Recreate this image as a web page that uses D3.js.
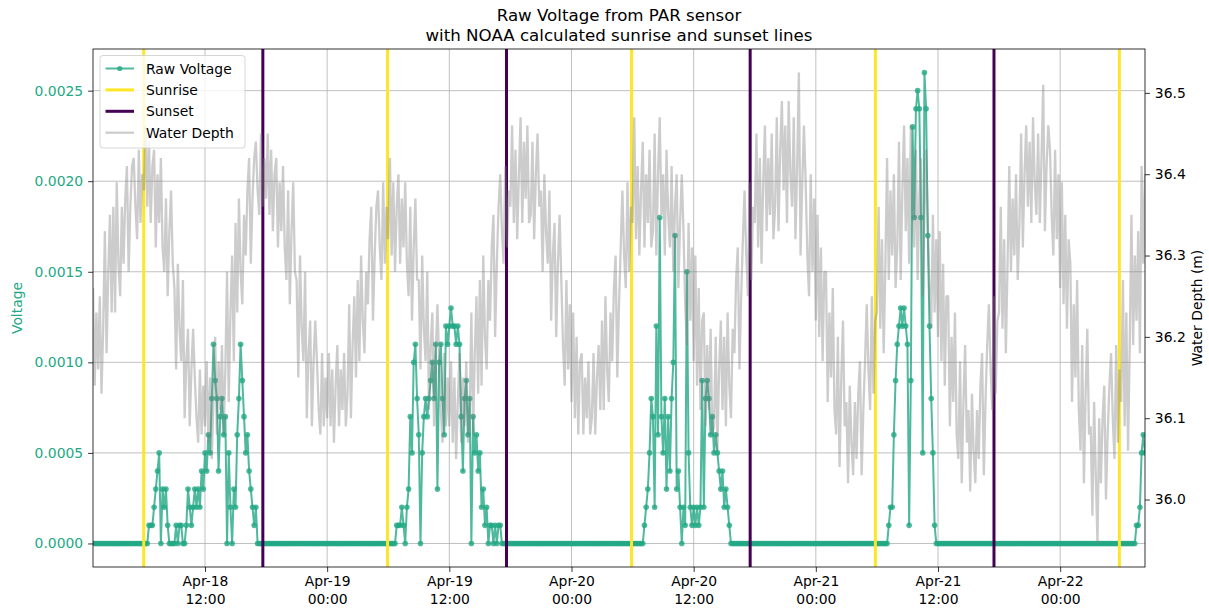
<!DOCTYPE html>
<html>
<head>
<meta charset="utf-8">
<script src="https://cdn.jsdelivr.net/npm/d3@7"></script>
<style>
  body { margin: 0; background: #fff; }
  svg { display: block; }
  text { font-family: "DejaVu Sans", sans-serif; }
</style>
</head>
<body>
<svg id="chart" width="1209" height="610"></svg>
<script>
// ---- data -------------------------------------------------------------
const seriesStartText = "2019-04-18 01:00";
const voltageStepMinutes = 10;
const depthStepMinutes = 10;
const voltsPerCount = 0.0001;

// PAR sensor raw voltage, in counts of 0.1 mV, one reading every 10 minutes
const voltageCounts = [
  // Apr-18 before dawn
  0,0,0,0,0,0,0,0,0,0, 0,0,0,0,0,0,0,0,0,0, 0,0,0,0,0,0,0,0,0,0, 0,0,
  // Apr-18 daylight
  0,1,1,1,2,3,4,5,0,3,
  2,3,1,0,0,0,0,1,0,1,
  1,0,0,1,3,2,1,2,3,2,
  3,2,4,3,5,4,6,5,8,11,
  9,8,4,7,8,6,7,0,5,2,
  0,3,2,6,8,11,9,7,5,6,
  4,3,2,1,2,0,0,
  // night Apr-18/19
  0,0,0,0,0,0,0,0,0,0, 0,0,0,0,0,0,0,0,0,0, 0,0,0,0,0,0,0,0,0,0,
  0,0,0,0,0,0,0,0,0,0, 0,0,0,0,0,0,0,0,0,0, 0,0,0,0,0,0,0,0,0,0,
  0,0,0,0,0,0,0,0,0,0, 0,0,0,0,0,0,0,0,0,
  // Apr-19 daylight
  0,1,1,1,2,1,0,2,3,7,
  5,10,11,8,6,0,5,7,8,7,
  8,9,10,8,11,3,10,11,8,6,
  12,11,12,13,12,12,11,12,11,7,
  4,8,9,6,8,0,7,5,6,4,
  5,2,3,1,2,0,1,1,0,1,
  0,1,1,0,
  // night Apr-19/20
  0,0,0,0,0,0,0,0,0,0, 0,0,0,0,0,0,0,0,0,0, 0,0,0,0,0,0,0,0,0,0,
  0,0,0,0,0,0,0,0,0,0, 0,0,0,0,0,0,0,0,0,0, 0,0,0,0,0,0,0,0,0,0,
  0,0,0,0,0,0,0,0,0,0, 0,0,0,0,0,0,0,0,0,0, 0,0,0,
  // Apr-20 daylight
  1,2,3,5,8,7,2,12,6,18,
  7,5,8,3,7,4,8,10,17,3,
  4,2,0,2,1,15,5,2,1,2,
  1,2,1,2,9,2,8,9,8,6,
  7,5,6,5,4,3,4,2,3,2,
  1,0,
  // night Apr-20/21
  0,0,0,0,0,0,0,0,0,0, 0,0,0,0,0,0,0,0,0,0, 0,0,0,0,0,0,0,0,0,0,
  0,0,0,0,0,0,0,0,0,0, 0,0,0,0,0,0,0,0,0,0, 0,0,0,0,0,0,0,0,0,0,
  0,0,0,0,0,0,0,0,0,0, 0,0,0,0,0,0,0,0,0,0, 0,0,0,0,0,0,0,0,0,0,
  0,0,
  // Apr-21 daylight
  1,2,2,6,9,11,12,13,12,13,
  12,11,1,9,23,18,24,25,24,18,
  5,26,24,17,12,8,5,1,0,0,
  // night Apr-21/22
  0,0,0,0,0,0,0,0,0,0, 0,0,0,0,0,0,0,0,0,0, 0,0,0,0,0,0,0,0,0,0,
  0,0,0,0,0,0,0,0,0,0, 0,0,0,0,0,0,0,0,0,0, 0,0,0,0,0,0,0,0,0,0,
  0,0,0,0,0,0,0,0,0,0, 0,0,0,0,0,0,0,0,0,0, 0,0,0,0,0,0,0,0,0,0,
  0,0,0,0,0,0,0,0,0,0, 0,0,0,0,0,0,0,0,0,0, 0,0,0,0,0,0,
  // Apr-22 morning
  1,1,2,5,6,5
];

// pressure-derived water depth (m), one reading every 10 minutes, one row per hour
const waterDepth = [
  36.26,36.14,36.23,36.16,36.25,36.13,
  36.21,36.33,36.18,36.28,36.35,36.23,
  36.36,36.23,36.39,36.29,36.25,36.36,
  36.29,36.37,36.41,36.28,36.36,36.41,
  36.42,36.36,36.32,36.43,36.34,36.40,
  36.38,36.46,36.36,36.44,36.34,36.41,
  36.43,36.31,36.40,36.34,36.42,36.31,
  36.28,36.37,36.25,36.33,36.38,36.29,
  36.26,36.16,36.29,36.21,36.17,36.27,
  36.10,36.17,36.21,36.09,36.16,36.21,
  36.15,36.10,36.07,36.16,36.08,36.14,
  36.09,36.17,36.07,36.15,36.05,36.12,
  36.20,36.08,36.17,36.11,36.19,36.08,
  36.16,36.28,36.12,36.23,36.30,36.17,
  36.34,36.23,36.37,36.28,36.24,36.35,
  36.30,36.38,36.42,36.29,36.37,36.42,
  36.44,36.38,36.35,36.45,36.36,36.42,
  36.37,36.45,36.35,36.43,36.33,36.40,
  36.42,36.31,36.39,36.33,36.41,36.31,
  36.27,36.38,36.24,36.33,36.39,36.28,
  36.27,36.15,36.30,36.21,36.17,36.28,
  36.10,36.18,36.22,36.09,36.17,36.22,
  36.17,36.11,36.08,36.18,36.09,36.15,
  36.10,36.18,36.09,36.16,36.07,36.14,
  36.19,36.09,36.16,36.11,36.18,36.09,
  36.13,36.24,36.10,36.19,36.25,36.15,
  36.27,36.17,36.30,36.22,36.18,36.28,
  36.24,36.32,36.36,36.22,36.30,36.36,
  36.38,36.31,36.27,36.39,36.29,36.36,
  36.32,36.42,36.30,36.39,36.28,36.36,
  36.40,36.29,36.37,36.31,36.39,36.29,
  36.25,36.36,36.22,36.31,36.37,36.27,
  36.27,36.16,36.30,36.21,36.17,36.28,
  36.11,36.19,36.23,36.09,36.18,36.24,
  36.17,36.11,36.07,36.18,36.09,36.15,
  36.09,36.17,36.07,36.15,36.05,36.12,
  36.18,36.07,36.15,36.09,36.17,36.07,
  36.11,36.23,36.08,36.18,36.25,36.13,
  36.27,36.14,36.30,36.20,36.16,36.27,
  36.22,36.31,36.35,36.20,36.29,36.36,
  36.40,36.33,36.29,36.41,36.31,36.38,
  36.36,36.46,36.34,36.43,36.32,36.40,
  36.47,36.34,36.44,36.37,36.46,36.34,
  36.35,36.44,36.32,36.40,36.45,36.36,
  36.38,36.28,36.40,36.33,36.29,36.38,
  36.22,36.30,36.34,36.20,36.29,36.35,
  36.27,36.19,36.14,36.27,36.16,36.24,
  36.12,36.23,36.10,36.20,36.08,36.17,
  36.18,36.08,36.15,36.10,36.17,36.08,
  36.10,36.18,36.08,36.15,36.19,36.11,
  36.22,36.11,36.25,36.16,36.12,36.23,
  36.17,36.26,36.30,36.15,36.24,36.31,
  36.38,36.30,36.26,36.39,36.28,36.36,
  36.34,36.47,36.32,36.41,36.30,36.38,
  36.44,36.31,36.40,36.34,36.43,36.31,
  36.33,36.45,36.30,36.40,36.47,36.35,
  36.40,36.30,36.43,36.35,36.31,36.41,
  36.28,36.36,36.40,36.26,36.34,36.40,
  36.33,36.24,36.19,36.34,36.22,36.31,
  36.17,36.30,36.14,36.26,36.11,36.22,
  36.23,36.09,36.19,36.11,36.21,36.08,
  36.09,36.20,36.06,36.16,36.22,36.11,
  36.20,36.09,36.23,36.14,36.10,36.21,
  36.18,36.27,36.31,36.16,36.25,36.32,
  36.38,36.30,36.25,36.39,36.27,36.36,
  36.34,36.45,36.31,36.42,36.29,36.39,
  36.46,36.33,36.42,36.35,36.45,36.32,
  36.36,36.47,36.33,36.43,36.49,36.38,
  36.46,36.34,36.49,36.40,36.36,36.47,
  36.32,36.41,36.525,36.30,36.39,36.46,
  36.39,36.30,36.25,36.40,36.28,36.37,
  36.22,36.35,36.20,36.31,36.17,36.28,
  36.28,36.12,36.23,36.15,36.26,36.11,
  36.08,36.20,36.04,36.15,36.22,36.09,
  36.12,36.02,36.14,36.07,36.03,36.12,
  36.05,36.13,36.17,36.03,36.11,36.17,
  36.24,36.16,36.11,36.25,36.13,36.22,
  36.23,36.36,36.21,36.32,36.18,36.29,
  36.42,36.27,36.38,36.30,36.40,36.26,
  36.31,36.44,36.27,36.38,36.46,36.33,
  36.42,36.29,36.46,36.36,36.31,36.43,
  36.27,36.37,36.42,36.25,36.35,36.43,
  36.34,36.26,36.21,36.35,36.23,36.32,
  36.20,36.33,36.17,36.29,36.14,36.25,
  36.25,36.09,36.20,36.12,36.23,36.08,
  36.05,36.17,36.02,36.12,36.19,36.07,
  36.11,36.01,36.13,36.06,36.02,36.11,
  36.05,36.14,36.18,36.03,36.12,36.19,
  36.24,36.16,36.11,36.25,36.13,36.22,
  36.23,36.36,36.21,36.32,36.18,36.29,
  36.41,36.28,36.37,36.30,36.40,36.27,
  36.34,36.45,36.31,36.40,36.46,36.36,
  36.44,36.34,36.47,36.39,36.35,36.45,
  36.34,36.42,36.51,36.33,36.41,36.46,
  36.43,36.35,36.30,36.43,36.32,36.40,
  36.26,36.39,36.24,36.35,36.21,36.32,
  36.29,36.12,36.24,36.15,36.27,36.11,
  36.06,36.19,36.02,36.13,36.21,36.08,
  36.09,35.98,36.12,36.03,35.946,36.10,
  36.02,36.10,36.14,36.00,36.08,36.14,
  36.18,36.10,36.05,36.19,36.07,36.16,
  36.12,36.27,36.09,36.23,36.06,36.19,
  36.35,36.19,36.30,36.22,36.33,36.18,
  36.41,36.29,36.40
];

// NOAA solar calculator times
const sunriseTimes = ["2019-04-18 05:59", "2019-04-19 05:56", "2019-04-20 05:54", "2019-04-21 05:51", "2019-04-22 05:49"];
const sunsetTimes  = ["2019-04-18 17:41", "2019-04-19 17:37", "2019-04-20 17:33", "2019-04-21 17:30"];

const voltageTicks = [0, 0.0005, 0.0010, 0.0015, 0.0020, 0.0025];
const depthTicks = [36.0, 36.1, 36.2, 36.3, 36.4, 36.5];

const titleLines = ["Raw Voltage from PAR sensor", "with NOAA calculated sunrise and sunset lines"];
const legendLabels = ["Raw Voltage", "Sunrise", "Sunset", "Water Depth"];

// ---- layout & style ---------------------------------------------------
const W = 1209, H = 610;
const plot = { left: 93, right: 1145, top: 49, bottom: 567 };
const voltageColor = "#22a884";
const sunriseColor = "#fde725";
const sunsetColor = "#440154";
const depthColor = "#808080";
const gridColor = "#b0b0b0";
const tickFont = 13.9;
const tickLen = 4.9, tickPad = 4.9;

const parseTime = d3.timeParse("%Y-%m-%d %H:%M");
const seriesStart = parseTime(seriesStartText);

const voltagePoints = voltageCounts.map((c, i) => ({
  time: d3.timeMinute.offset(seriesStart, i * voltageStepMinutes),
  value: c * voltsPerCount
}));
const depthPoints = waterDepth.map((d, i) => ({
  time: d3.timeMinute.offset(seriesStart, i * depthStepMinutes),
  value: d
}));

// axis limits padded by 5% of the data span on each side
const padded = ([lo, hi]) => { const p = (hi - lo) * 0.05; return [lo - p, hi + p]; };

const x = d3.scaleTime()
  .domain([seriesStart, voltagePoints[voltagePoints.length - 1].time])
  .range([plot.left, plot.right]);
const yVolt = d3.scaleLinear()
  .domain(padded(d3.extent(voltagePoints, d => d.value)))
  .range([plot.bottom, plot.top]);
const yDepth = d3.scaleLinear()
  .domain(padded(d3.extent(depthPoints, d => d.value)))
  .range([plot.bottom, plot.top]);

const svg = d3.select("#chart");
svg.append("rect").attr("width", W).attr("height", H).attr("fill", "#fff");

const xTicks = x.ticks(d3.timeHour.every(12));

// grid (primary axes)
const grid = svg.append("g").attr("stroke", gridColor).attr("stroke-width", 0.8);
grid.selectAll("line.v").data(xTicks).join("line")
  .attr("class", "v")
  .attr("x1", d => x(d)).attr("x2", d => x(d))
  .attr("y1", plot.top).attr("y2", plot.bottom);
grid.selectAll("line.h").data(voltageTicks).join("line")
  .attr("class", "h")
  .attr("x1", plot.left).attr("x2", plot.right)
  .attr("y1", d => yVolt(d)).attr("y2", d => yVolt(d));

const clipId = "plot-clip";
svg.append("clipPath").attr("id", clipId).append("rect")
  .attr("x", plot.left).attr("y", plot.top)
  .attr("width", plot.right - plot.left).attr("height", plot.bottom - plot.top);

const layer = svg.append("g").attr("clip-path", `url(#${clipId})`);

// raw voltage line with markers
const voltLine = d3.line().x(d => x(d.time)).y(d => yVolt(d.value));
layer.append("path")
  .datum(voltagePoints)
  .attr("d", voltLine)
  .attr("fill", "none")
  .attr("stroke", voltageColor)
  .attr("stroke-width", 2)
  .attr("stroke-opacity", 0.8)
  .attr("stroke-linejoin", "round");
layer.append("g").selectAll("circle").data(voltagePoints).join("circle")
  .attr("cx", d => x(d.time))
  .attr("cy", d => yVolt(d.value))
  .attr("r", 2.8)
  .attr("fill", voltageColor)
  .attr("fill-opacity", 0.8);

// sunrise / sunset markers
layer.selectAll("line.sunrise").data(sunriseTimes.map(parseTime)).join("line")
  .attr("class", "sunrise")
  .attr("x1", d => x(d)).attr("x2", d => x(d))
  .attr("y1", plot.top).attr("y2", plot.bottom)
  .attr("stroke", sunriseColor).attr("stroke-width", 3);
layer.selectAll("line.sunset").data(sunsetTimes.map(parseTime)).join("line")
  .attr("class", "sunset")
  .attr("x1", d => x(d)).attr("x2", d => x(d))
  .attr("y1", plot.top).attr("y2", plot.bottom)
  .attr("stroke", sunsetColor).attr("stroke-width", 3);

// water depth on the secondary axis
const depthLine = d3.line().x(d => x(d.time)).y(d => yDepth(d.value));
layer.append("path")
  .datum(depthPoints)
  .attr("d", depthLine)
  .attr("fill", "none")
  .attr("stroke", depthColor)
  .attr("stroke-width", 2.3)
  .attr("stroke-opacity", 0.4)
  .attr("stroke-linejoin", "bevel");

// frame
svg.append("rect")
  .attr("x", plot.left).attr("y", plot.top)
  .attr("width", plot.right - plot.left).attr("height", plot.bottom - plot.top)
  .attr("fill", "none").attr("stroke", "#000").attr("stroke-width", 0.8);

// axes
function styleAxis(g, color) {
  g.select(".domain").remove();
  g.selectAll(".tick line").attr("stroke", "#000").attr("stroke-width", 0.8);
  g.selectAll(".tick text")
    .attr("fill", color)
    .style("font-size", tickFont + "px")
    .style("font-family", "'DejaVu Sans', sans-serif");
}

svg.append("g")
  .attr("transform", `translate(${plot.left},0)`)
  .call(d3.axisLeft(yVolt).tickValues(voltageTicks).tickFormat(d3.format(".4f"))
    .tickSize(tickLen).tickPadding(tickPad))
  .call(g => styleAxis(g, voltageColor));

svg.append("g")
  .attr("transform", `translate(${plot.right},0)`)
  .call(d3.axisRight(yDepth).tickValues(depthTicks).tickFormat(d3.format(".1f"))
    .tickSize(tickLen).tickPadding(tickPad))
  .call(g => styleAxis(g, "#000"));

const fmtDay = d3.timeFormat("%b-%d");
const fmtHour = d3.timeFormat("%H:%M");
const xAxisG = svg.append("g")
  .attr("transform", `translate(0,${plot.bottom})`)
  .call(d3.axisBottom(x).tickValues(xTicks).tickFormat("").tickSize(tickLen))
  .call(g => styleAxis(g, "#000"));
xAxisG.selectAll(".tick").each(function (d) {
  const t = d3.select(this).append("text")
    .attr("fill", "#000")
    .attr("text-anchor", "middle")
    .style("font-size", tickFont + "px");
  t.append("tspan").attr("x", 0).attr("y", 19).text(fmtDay(d));
  t.append("tspan").attr("x", 0).attr("y", 37).text(fmtHour(d));
});

// axis titles
const midY = (plot.top + plot.bottom) / 2;
svg.append("text")
  .attr("transform", `translate(22,${midY}) rotate(-90)`)
  .attr("text-anchor", "middle")
  .attr("fill", voltageColor)
  .style("font-size", tickFont + "px")
  .text("Voltage");
svg.append("text")
  .attr("transform", `translate(1201.5,${midY}) rotate(-90)`)
  .attr("text-anchor", "middle")
  .attr("fill", "#000")
  .style("font-size", tickFont + "px")
  .text("Water Depth (m)");

// title
const midX = (plot.left + plot.right) / 2;
svg.selectAll("text.title").data(titleLines).join("text")
  .attr("class", "title")
  .attr("x", midX)
  .attr("y", (d, i) => 21 + i * 19.5)
  .attr("text-anchor", "middle")
  .attr("fill", "#000")
  .style("font-size", "16.67px")
  .text(d => d);

// legend
const legend = svg.append("g");
const lg = { x: 100, y: 55.5, w: 145, h: 92.5 };
legend.append("rect")
  .attr("x", lg.x).attr("y", lg.y).attr("width", lg.w).attr("height", lg.h)
  .attr("rx", 3).attr("ry", 3)
  .attr("fill", "#fff").attr("fill-opacity", 0.8)
  .attr("stroke", "#cccccc").attr("stroke-width", 0.8);

const legendStyles = [
  { color: voltageColor, width: 2, opacity: 0.8, marker: true },
  { color: sunriseColor, width: 3, opacity: 1, marker: false },
  { color: sunsetColor, width: 3, opacity: 1, marker: false },
  { color: depthColor, width: 2.3, opacity: 0.4, marker: false }
];
const rowY = i => 68.5 + i * 21.4;
const h0 = 105.5, h1 = 134;
legendLabels.forEach((label, i) => {
  const s = legendStyles[i];
  const y = rowY(i);
  legend.append("line")
    .attr("x1", h0).attr("x2", h1).attr("y1", y).attr("y2", y)
    .attr("stroke", s.color).attr("stroke-width", s.width).attr("stroke-opacity", s.opacity);
  if (s.marker) {
    legend.append("circle").attr("cx", (h0 + h1) / 2).attr("cy", y).attr("r", 2.6)
      .attr("fill", s.color).attr("fill-opacity", s.opacity);
  }
  legend.append("text")
    .attr("x", 146).attr("y", y + 5)
    .attr("fill", "#000")
    .style("font-size", tickFont + "px")
    .text(label);
});
</script>
</body>
</html>
